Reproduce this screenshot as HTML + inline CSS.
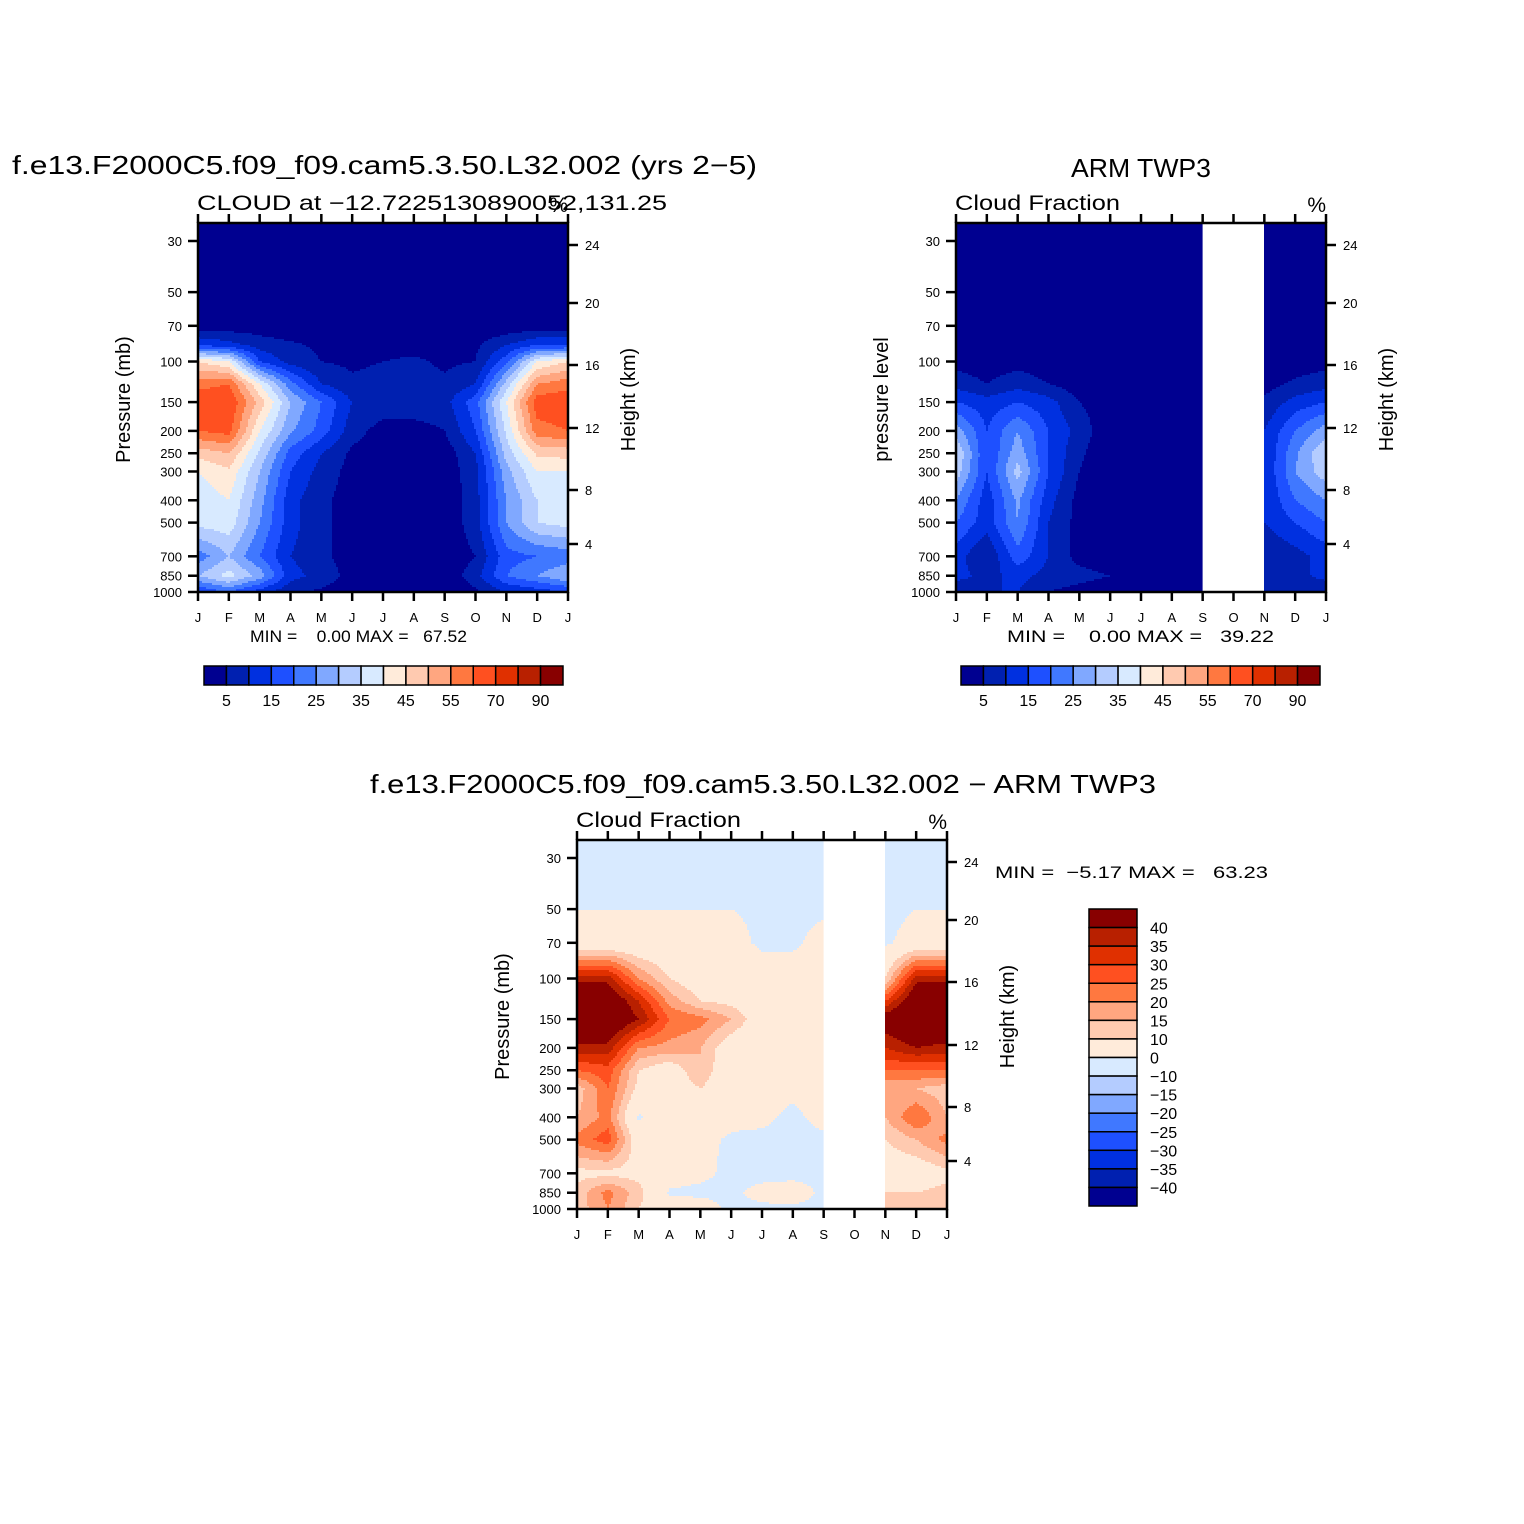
<!DOCTYPE html>
<html><head><meta charset="utf-8">
<style>
html,body{margin:0;padding:0;background:#fff;}
svg{display:block;}
text{font-family:"Liberation Sans",sans-serif;fill:#000;}
</style></head>
<body>
<svg id="fig" width="1524" height="1524" viewBox="0 0 1524 1524" xmlns="http://www.w3.org/2000/svg">
<rect width="1524" height="1524" fill="#fff"/>
<g id="layer"></g>
</svg>
<script>
// ---------- data ----------
const months = ["J","F","M","A","M","J","J","A","S","O","N","D","J"];
const modelLevels = [30,50,70,85,100,125,150,200,250,300,400,500,700,850,1000];
const modelRows = [
 [0,0,0,0,0,0,0,0,0,0,0,0,0],
 [0,0,0,0,0,0,0,0,0,0,0,0,0],
 [2,2,2,1,1,0,0,0,0,1,1,2,2],
 [15,12,8,6,4,3,3,3,3,4,10,15,15],
 [45,40,15,8,5,4,5,6,4,5,18,40,45],
 [58,60,40,22,10,6,7,7,6,10,32,55,58],
 [64,65,48,30,20,10,8,8,8,18,40,63,64],
 [60,62,40,26,18,7,3,3,5,15,36,58,60],
 [47,50,34,18,10,4,2,2,2,10,32,46,47],
 [40,44,30,15,8,3,2,1,2,8,28,40,40],
 [37,40,27,12,6,3,2,1,1,8,25,35,37],
 [37,38,25,12,6,3,2,1,1,8,25,35,37],
 [22,30,20,10,6,3,2,1,1,5,18,20,22],
 [30,37,28,12,8,3,2,1,1,8,20,25,30],
 [15,20,12,6,4,2,2,1,1,4,10,12,15]
];
const obsLevels = [30,50,70,100,125,150,200,250,300,400,500,700,850,1000];
const obsRows = [
 [0,0,0,0,0,0,0,0,0,null,0,0,0],
 [0,0,0,0,0,0,0,0,0,null,0,0,0],
 [0,0,0,0,0,0,0,0,0,null,0,0,0],
 [3,2,3,2,1,0,0,0,0,null,1,2,3],
 [8,5,8,5,2,1,0,0,0,null,3,6,8],
 [15,12,15,12,5,2,1,0,0,null,6,12,15],
 [28,15,25,15,8,1,1,0,0,null,10,20,28],
 [35,15,28,15,6,1,1,0,0,null,10,24,35],
 [33,15,32,15,5,1,1,0,0,null,10,25,33],
 [25,12,26,12,3,1,0,0,0,null,10,20,25],
 [20,12,25,10,3,1,0,0,0,null,10,15,20],
 [12,5,18,10,3,1,0,0,0,null,5,8,12],
 [12,8,12,8,7,5,3,0,0,null,8,8,12],
 [5,10,10,5,3,1,1,0,0,null,5,5,5]
];
const diffLevels = [30,50,70,100,125,150,200,250,300,400,500,700,850,1000];
const diffRows = [
 [-2,-2,-2,-2,-2,-2,-2,-2,-2,null,-2,-2,-2],
 [0,0,0,0,0,0,-1,-1,-1,null,-2,0,0],
 [3,3,3,3,3,2,-1,-1,2,null,-1,3,3],
 [38,38,20,10,5,5,3,3,3,null,10,38,38],
 [48,48,35,18,10,8,5,5,3,null,30,48,48],
 [50,50,40,25,22,15,5,3,3,null,45,50,50],
 [38,38,20,18,15,5,3,3,3,null,35,40,38],
 [25,28,10,5,15,3,3,3,3,null,25,25,25],
 [12,25,8,5,10,3,3,2,3,null,15,15,12],
 [15,22,-1,5,5,2,2,-2,3,null,15,25,15],
 [22,28,5,4,2,-1,-2,-3,-2,null,10,15,22],
 [8,8,8,4,2,-2,-3,-3,-2,null,5,5,8],
 [12,22,12,-1,-2,-2,3,5,-2,null,10,10,12],
 [12,20,10,5,5,-2,-2,-2,-2,null,10,10,12]
];
const absContours = [5,10,15,20,25,30,35,40,45,50,55,60,70,80,90];
const absLabels = ["5","15","25","35","45","55","70","90"];
const diffContours = [-40,-35,-30,-25,-20,-15,-10,0,10,15,20,25,30,35,40];
const diffLabels = ["40","35","30","25","20","15","10","0","\u221210","\u221215","\u221220","\u221225","\u221230","\u221235","\u221240"];
const pTicks = [30,50,70,100,150,200,250,300,400,500,700,850,1000];
const kmTicks = ["24","20","16","12","8","4"];
const palette = ["#000090","#0020b0","#0030e0","#1e50ff","#4078ff","#80a8ff","#b4ccff","#d8eaff","#ffebda","#ffcab0","#ffa680","#ff7840","#ff5020","#e03000","#b82000","#880000"];

// ---------- helpers ----------
const NS="http://www.w3.org/2000/svg";
const layer=document.getElementById('layer');
function mk(tag,attrs,parent){const e=document.createElementNS(NS,tag);for(const k in attrs)e.setAttribute(k,attrs[k]);(parent||layer).appendChild(e);return e;}
function txt(s,x,y,size,anchor,parent,extra){const e=mk('text',Object.assign({x:x,y:y,'font-size':size,'text-anchor':anchor||'start'},extra||{}),parent);e.textContent=s;return e;}
const PW=370, PH=369, PSCALE=100.1;
function yOfP(y0,p){return y0+PH-PSCALE*Math.log(1000/p);}
function pOfY(y0,y){return 1000*Math.exp(-(y0+PH-y)/PSCALE);}
function xOfM(x0,m){return x0+m*PW/12;}
function colorIdx(v,cont){let i=0;while(i<cont.length&&v>=cont[i])i++;return i;}
function sample(levels,rows,m,p){
  if(p<levels[0])p=levels[0];if(p>levels[levels.length-1])p=levels[levels.length-1];
  let k=0;while(k<levels.length-2&&p>levels[k+1])k++;
  const t=(Math.log(p)-Math.log(levels[k]))/(Math.log(levels[k+1])-Math.log(levels[k]));
  const i=Math.min(11,Math.floor(m));const s=m-i;
  const a=rows[k][i],b=rows[k][i+1],c=rows[k+1][i],d=rows[k+1][i+1];
  if(a===null||b===null||c===null||d===null)return null;
  return (a*(1-s)+b*s)*(1-t)+(c*(1-s)+d*s)*t;
}
function field(g,x0,y0,levels,rows,cont){
  const step=2;
  for(let px=0;px<PW;px+=step){
    const m=(px+step/2)/PW*12;
    let runStart=0,runCol=null;
    const flush=(end)=>{if(runCol!==null){mk('rect',{x:x0+px,y:y0+runStart,width:step+0.6,height:end-runStart+0.6,fill:runCol},g);}};
    for(let py=0;py<PH;py+=step){
      const p=pOfY(y0,y0+py+step/2);
      const v=sample(levels,rows,m,p);
      const col=v===null?null:palette[colorIdx(v,cont)];
      if(col!==runCol){flush(py);runStart=py;runCol=col;}
    }
    flush(PH);
  }
}
function panel(name,x0,y0,levels,rows,cont,leftTitle,sub,subLen){
  const g=mk('g',{},layer);
  
  
  const f=mk('g',{},g);
  
  
  field(f,x0,y0,levels,rows,cont);
  const ax=mk('g',{stroke:'#000','stroke-width':2.5,fill:'none'},g);
  
  
  mk('rect',{x:x0,y:y0,width:PW,height:PH},ax);
  for(let i=0;i<13;i++){const x=xOfM(x0,i);
    mk('line',{x1:x,y1:y0+PH,x2:x,y2:y0+PH+9},ax);
    mk('line',{x1:x,y1:y0,x2:x,y2:y0-9},ax);
    const t=txt(months[i],x,y0+PH+30,13,'middle',g);
    
    
  }
  pTicks.forEach(p=>{const y=yOfP(y0,p);
    mk('line',{x1:x0,y1:y,x2:x0-10,y2:y},ax);
    const t=txt(String(p),x0-16,y+5,13,'end',g);
    
    
  });
  const kmOff=[22,80,142,205,267,321];
  kmTicks.forEach((k,i)=>{const y=y0+kmOff[i];
    mk('line',{x1:x0+PW,y1:y,x2:x0+PW+10,y2:y},ax);
    const t=txt(k,x0+PW+17,y+5,13,'start',g);
    
    
  });
  const cy=y0+PH/2-8;
  const lt=txt(leftTitle,x0-68,cy,20,'middle',g,{transform:'rotate(-90 '+(x0-68)+' '+cy+')'});
  
  
  const rt=txt('Height (km)',x0+PW+67,cy,20,'middle',g,{transform:'rotate(-90 '+(x0+PW+67)+' '+cy+')'});
  
  
  const st=txt(sub,x0-1,y0-13,21,'start',g,{textLength:subLen,lengthAdjust:'spacingAndGlyphs'});
  
  
  const pc=txt('%',x0+PW,y0-11,21,'end',g);
  
  
}
function hbar(name,x0,y0){
  const g=mk('g',{},layer);
  
  
  const w=(563-204)/16;
  palette.forEach((c,i)=>{mk('rect',{x:x0+i*w,y:y0,width:w,height:19,fill:c,stroke:'#000','stroke-width':1.5},g);});
  absLabels.forEach((l,i)=>{const t=txt(l,x0+(2*i+1)*w,y0+40,16,'middle',g);
    
    });
}
// ---------- draw ----------
panel('model-panel',198,223,modelLevels,modelRows,absContours,'Pressure (mb)','CLOUD at \u221212.7225130890052,131.25',470);
panel('obs-panel',956,223,obsLevels,obsRows,absContours,'pressure level','Cloud Fraction',165);
panel('diff-panel',577,840,diffLevels,diffRows,diffContours,'Pressure (mb)','Cloud Fraction',165);
hbar('model-colorbar',204,666);
hbar('obs-colorbar',961,666);
(function(){
  const g=mk('g',{},layer);
  
  
  const h=(1206-909)/16;
  for(let i=0;i<16;i++){mk('rect',{x:1089,y:909+i*h,width:48,height:h,fill:palette[15-i],stroke:'#000','stroke-width':1.5},g);}
  diffLabels.forEach((l,i)=>{const t=txt(l,1150,909+(i+1)*h+6,16,'start',g);
    
    });
})();
const titles=[
 ['f.e13.F2000C5.f09_f09.cam5.3.50.L32.002 (yrs 2\u22125)',12,174,26,745,'model-title'],
 ['ARM TWP3',1071,177,26,140,'obs-title'],
 ['f.e13.F2000C5.f09_f09.cam5.3.50.L32.002 \u2212 ARM TWP3',370,793,26,786,'diff-title'],
 ['MIN =    0.00 MAX =   67.52',250,642,17,217,'model-minmax'],
 ['MIN =    0.00 MAX =   39.22',1007,642,17,267,'obs-minmax'],
 ['MIN =  \u22125.17 MAX =   63.23',995,878,17,273,'diff-minmax']
];
titles.forEach(t=>{const e=txt(t[0],t[1],t[2],t[3],'start',layer,{'xml:space':'preserve',textLength:t[4],lengthAdjust:'spacingAndGlyphs'});
  e.setAttribute('style','white-space:pre');
  
  });
</script>
</body></html>
